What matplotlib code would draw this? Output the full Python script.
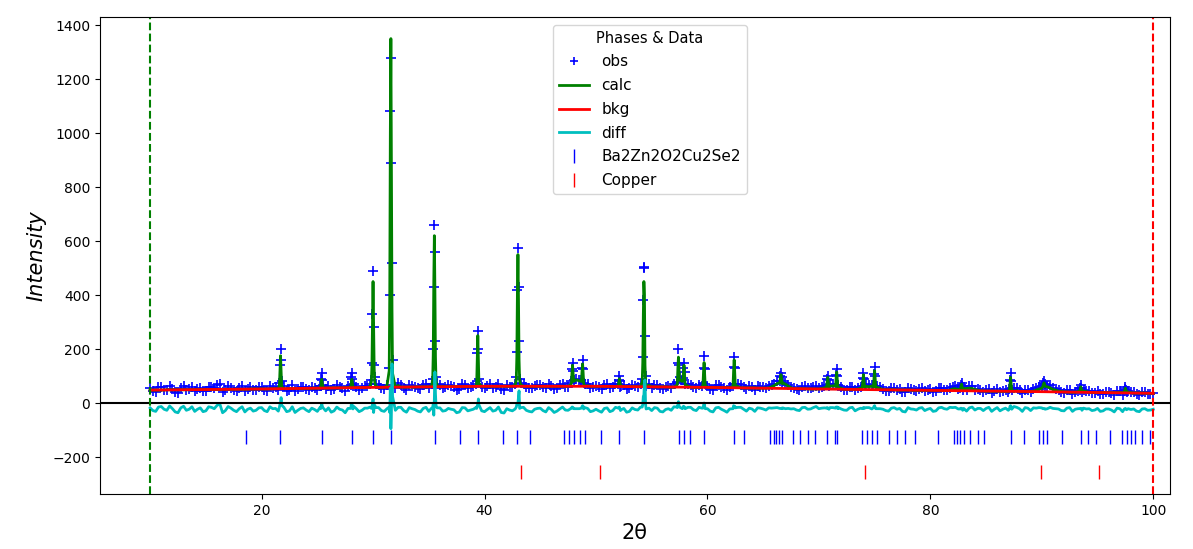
import numpy as np
import matplotlib.pyplot as plt

# background scan points on the half-degree steps (2theta, observed, calculated)
bg_tth = [10.0, 10.5, 11.0, 11.5, 12.0, 12.5, 13.0, 13.5, 14.0, 14.5,
          15.0, 15.5, 16.0, 16.5, 17.0, 17.5, 18.0, 18.5, 19.0, 19.5,
          20.0, 20.5, 21.0, 21.5, 22.0, 22.5, 23.0, 23.5, 24.0, 24.5,
          25.0, 26.0, 26.5, 27.0, 27.5, 28.5, 29.0, 29.5,
          30.5, 31.0, 32.0, 32.5, 33.0, 33.5, 34.0, 34.5,
          35.0, 36.0, 36.5, 37.0, 37.5, 38.0, 38.5, 39.0,
          40.0, 40.5, 41.0, 41.5, 42.0, 42.5, 43.5, 44.0, 44.5,
          45.0, 45.5, 46.0, 46.5, 47.0, 47.5, 48.5, 49.0, 49.5,
          50.0, 50.5, 51.0, 51.5, 52.5, 53.0, 53.5, 54.0, 54.5,
          55.0, 55.5, 56.0, 56.5, 57.0, 58.5, 59.0, 59.5,
          60.0, 60.5, 61.0, 61.5, 62.0, 63.0, 63.5, 64.0, 64.5,
          65.0, 65.5, 66.0, 67.0, 67.5, 68.0, 68.5, 69.0, 69.5,
          70.0, 70.5, 71.0, 72.0, 72.5, 73.0, 73.5, 74.5,
          75.5, 76.0, 76.5, 77.0, 77.5, 78.0, 78.5, 79.0, 79.5,
          80.0, 80.5, 81.0, 81.5, 82.0, 82.5, 83.0, 83.5, 84.0, 84.5,
          85.0, 85.5, 86.0, 86.5, 87.0, 87.5, 88.0, 88.5, 89.0, 89.5,
          90.0, 90.5, 91.0, 91.5, 92.0, 92.5, 93.0, 94.0, 94.5,
          95.0, 95.5, 96.0, 96.5, 97.0, 98.0, 98.5, 99.0, 99.5, 100.0]
bg_obs = [55, 42, 60, 47, 53, 38, 62, 51, 44, 57,
          46, 59, 66, 40, 63, 49, 55, 43, 58, 50,
          60, 45, 57, 48, 62, 50, 44, 59, 53, 61,
          49, 63, 52, 58, 46, 61, 55, 64,
          66, 52, 57, 68, 50, 63, 55, 65,
          54, 67, 58, 63, 50, 69, 57, 64,
          55, 70, 60, 52, 66, 58, 71, 56, 64,
          68, 54, 63, 57, 72, 60, 86, 70, 55,
          64, 53, 69, 58, 66, 55, 62, 70, 63,
          57, 66, 52, 63, 70, 68, 55, 64,
          62, 50, 66, 54, 60, 65, 51, 59, 62,
          58, 63, 72, 74, 60, 52, 61, 54, 60,
          56, 63, 70, 58, 49, 60, 54, 68,
          58, 46, 55, 50, 42, 56, 49, 53, 44,
          52, 43, 55, 48, 60, 53, 58, 62, 49, 50,
          49, 38, 52, 45, 41, 55, 47, 50, 39, 54,
          62, 64, 55, 47, 37, 48, 42, 45, 36,
          44, 35, 41, 30, 43, 39, 32, 40, 34, 38]
bg_calc = [48, 48, 48, 49, 49, 49, 49, 49, 50, 50,
           50, 50, 50, 51, 51, 51, 51, 51, 52, 52,
           52, 52, 53, 53, 53, 54, 54, 54, 54, 55,
           55, 56, 56, 56, 57, 57, 57, 58,
           58, 58, 59, 59, 59, 59, 60, 60,
           60, 60, 61, 61, 61, 61, 61, 62,
           62, 62, 62, 62, 62, 62, 62, 62, 62,
           62, 62, 62, 62, 62, 62, 82, 62, 62,
           62, 62, 62, 61, 61, 61, 61, 60, 60,
           60, 60, 60, 59, 59, 59, 58, 58,
           58, 58, 57, 57, 57, 56, 56, 56, 55,
           55, 56, 65, 70, 57, 53, 53, 52, 52,
           52, 56, 62, 55, 51, 51, 52, 60,
           54, 49, 49, 48, 48, 48, 47, 47, 47,
           47, 47, 46, 46, 52, 50, 53, 55, 50, 45,
           44, 44, 44, 43, 43, 43, 43, 42, 42, 48,
           55, 60, 50, 44, 41, 40, 40, 42, 39,
           39, 39, 38, 38, 39, 38, 37, 37, 36, 36]

# background scan points on the quarter-degree steps
bq_tth = [10.25, 10.75, 11.25, 11.75, 12.25, 12.75, 13.25, 13.75, 14.25, 14.75,
          15.25, 15.75, 16.25, 16.75, 17.25, 17.75, 18.25, 18.75, 19.25, 19.75,
          20.25, 20.75, 21.25, 22.25, 22.75, 23.25, 23.75, 24.25, 24.75,
          25.25, 25.75, 26.25, 26.75, 27.25, 27.75, 28.25, 28.75, 29.25, 29.75,
          30.25, 30.75, 31.25, 32.25, 32.75, 33.25, 33.75, 34.25, 34.75,
          35.25, 35.75, 36.25, 36.75, 37.25, 37.75, 38.25, 38.75, 39.25, 39.75,
          40.25, 40.75, 41.25, 41.75, 42.25, 42.75, 43.25, 43.75, 44.25, 44.75,
          45.25, 45.75, 46.25, 46.75, 47.25, 47.75, 48.25, 49.25, 49.75,
          50.25, 50.75, 51.25, 51.75, 52.25, 52.75, 53.25, 53.75, 54.75,
          55.25, 55.75, 56.25, 56.75, 57.25, 57.75, 58.25, 58.75, 59.25,
          60.25, 60.75, 61.25, 61.75, 62.25, 62.75, 63.25, 63.75, 64.25, 64.75,
          65.25, 65.75, 66.25, 66.75, 67.25, 67.75, 68.25, 68.75, 69.25, 69.75,
          70.25, 71.25, 71.75, 72.25, 72.75, 73.25, 73.75, 74.25, 74.75,
          75.25, 75.75, 76.25, 76.75, 77.25, 77.75, 78.25, 78.75, 79.25, 79.75,
          80.25, 80.75, 81.25, 81.75, 82.25, 83.25, 83.75, 84.25, 84.75,
          85.25, 85.75, 86.25, 86.75, 87.75, 88.25, 88.75, 89.25, 89.75,
          90.75, 91.25, 91.75, 92.25, 92.75, 93.25, 93.75, 94.25, 94.75,
          95.25, 95.75, 96.25, 96.75, 97.25, 97.75, 98.25, 98.75, 99.25, 99.75]
bq_obs = [45, 58, 50, 63, 41, 56, 47, 60, 52, 43,
          61, 54, 72, 48, 57, 44, 62, 53, 47, 59,
          49, 63, 58, 46, 65, 52, 61, 47, 56,
          64, 51, 47, 66, 55, 62, 70, 50, 63, 72,
          70, 55, 68, 74, 56, 67, 60, 52, 69,
          70, 72, 56, 66, 61, 53, 68, 60, 71, 58,
          63, 57, 72, 50, 61, 69, 76, 60, 54, 67,
          59, 70, 52, 65, 61, 73, 90, 69, 58,
          58, 67, 55, 70, 63, 52, 68, 59, 72,
          68, 54, 61, 57, 76, 84, 72, 58, 67,
          53, 65, 59, 48, 64, 70, 58, 62, 50, 61,
          54, 66, 80, 82, 68, 57, 50, 62, 55, 64,
          60, 72, 66, 50, 58, 47, 61, 70, 66,
          62, 52, 44, 57, 53, 40, 51, 46, 55, 49,
          41, 54, 50, 57, 62, 49, 64, 53, 42,
          53, 46, 40, 50, 55, 37, 48, 51, 60,
          65, 52, 40, 47, 34, 46, 50, 44, 38,
          33, 42, 37, 44, 31, 45, 40, 30, 41, 35]
bq_calc = [48, 48, 48, 49, 49, 49, 49, 49, 50, 50,
           50, 50, 50, 51, 51, 51, 51, 51, 52, 52,
           52, 52, 53, 53, 54, 54, 54, 54, 55,
           55, 55, 56, 56, 56, 57, 57, 57, 57, 62,
           62, 58, 64, 65, 59, 59, 59, 60, 60,
           64, 65, 61, 61, 61, 61, 61, 61, 62, 62,
           62, 62, 62, 62, 62, 66, 68, 62, 62, 62,
           62, 62, 62, 62, 62, 68, 86, 64, 62,
           62, 62, 62, 61, 63, 61, 61, 60, 66,
           60, 60, 60, 59, 66, 80, 63, 58, 58,
           58, 58, 57, 57, 60, 61, 56, 56, 56, 55,
           55, 60, 72, 75, 63, 53, 53, 53, 52, 52,
           54, 64, 58, 51, 51, 51, 55, 62, 63,
           58, 50, 49, 49, 48, 48, 48, 47, 47, 47,
           47, 47, 46, 48, 53, 54, 54, 48, 45,
           44, 44, 44, 44, 46, 43, 42, 44, 52,
           56, 48, 43, 41, 40, 42, 44, 40, 39,
           39, 39, 38, 38, 38, 41, 37, 37, 37, 36]

# points across the Bragg peaks
pk_tth = [21.6, 21.65, 21.7, 21.75, 21.8,
          25.3, 25.35, 25.4, 25.45, 25.5,
          28.0, 28.05, 28.1, 28.15, 28.2,
          29.85, 29.9, 29.95, 30.0, 30.05, 30.1, 30.15,
          31.45, 31.5, 31.55, 31.6, 31.65, 31.7, 31.75,
          35.35, 35.4, 35.45, 35.5, 35.55, 35.6, 35.65,
          39.3, 39.35, 39.4, 39.45, 39.5,
          42.85, 42.9, 42.95, 43.0, 43.05, 43.1, 43.15,
          47.8, 47.85, 47.9, 47.95, 48.0,
          48.7, 48.75, 48.8, 48.85, 48.9,
          52.0, 52.05, 52.1, 52.15, 52.2,
          54.15, 54.2, 54.25, 54.3, 54.35, 54.4, 54.45,
          57.3, 57.35, 57.4, 57.45, 57.5,
          57.8, 57.85, 57.9, 57.95, 58.0,
          59.6, 59.65, 59.7, 59.75, 59.8,
          62.3, 62.35, 62.4, 62.45, 62.5,
          66.5, 66.55, 66.6, 66.65, 66.7,
          70.7, 70.75, 70.8, 70.85, 70.9,
          71.5, 71.55, 71.6, 71.65, 71.7,
          73.9, 73.95, 74.0, 74.05, 74.1,
          74.9, 74.95, 75.0, 75.05, 75.1,
          82.7, 82.75, 82.8, 82.85, 82.9,
          87.1, 87.15, 87.2, 87.25, 87.3,
          90.1, 90.15, 90.2, 90.25, 90.3,
          93.4, 93.45, 93.5, 93.55, 93.6,
          97.4, 97.45, 97.5, 97.55, 97.6]
pk_obs = [75, 140, 200, 160, 80,
          62, 90, 110, 85, 66,
          65, 95, 110, 88, 63,
          85, 150, 330, 490, 280, 140, 95,
          130, 400, 1080, 1280, 890, 520, 160,
          90, 200, 430, 660, 560, 230, 95,
          80, 185, 265, 200, 90,
          95, 190, 420, 575, 430, 230, 90,
          80, 125, 150, 118, 84,
          86, 130, 160, 125, 75,
          70, 85, 100, 80, 60,
          90, 170, 380, 505, 500, 250, 100,
          78, 150, 200, 140, 95,
          92, 128, 150, 115, 72,
          74, 130, 175, 125, 70,
          70, 135, 170, 128, 72,
          80, 100, 110, 98, 76,
          66, 88, 100, 84, 62,
          68, 105, 125, 100, 64,
          62, 92, 110, 90, 66,
          68, 108, 135, 100, 62,
          55, 68, 75, 64, 50,
          52, 85, 110, 80, 50,
          66, 74, 80, 72, 64,
          48, 57, 65, 55, 42,
          44, 52, 60, 50, 40]
pk_calc = [65, 120, 175, 115, 63,
           58, 75, 88, 72, 58,
           60, 75, 88, 74, 60,
           80, 140, 310, 450, 290, 130, 78,
           120, 410, 1000, 1350, 890, 350, 110,
           85, 180, 450, 620, 420, 170, 80,
           75, 170, 250, 160, 72,
           85, 170, 400, 550, 380, 160, 85,
           75, 115, 140, 110, 80,
           80, 118, 145, 112, 72,
           64, 78, 90, 76, 63,
           80, 150, 330, 450, 400, 140, 80,
           70, 130, 170, 125, 85,
           85, 115, 140, 105, 68,
           68, 115, 150, 110, 66,
           66, 120, 160, 115, 65,
           75, 95, 105, 92, 72,
           60, 80, 95, 78, 60,
           62, 95, 115, 90, 60,
           58, 85, 105, 82, 60,
           60, 95, 120, 92, 58,
           52, 62, 70, 60, 52,
           48, 72, 95, 70, 48,
           62, 70, 75, 68, 62,
           44, 52, 60, 50, 44,
           41, 48, 55, 47, 40]

# refined background
bkg_tth = [10, 20, 30, 40, 50, 60, 70, 80, 90, 100]
bkg_int = [48, 52, 58, 62, 62, 58, 52, 47, 42, 36]

# reflection positions
ba_refl = [18.57, 21.63, 25.44, 28.13, 30.01, 31.57, 35.52, 37.78,
           39.40, 41.64, 42.93, 44.04, 47.17, 47.60, 48.07, 48.55, 48.99,
           50.49, 52.11, 54.29, 57.43, 57.87, 58.41, 59.73, 62.36, 63.26,
           65.65, 65.95, 66.19, 66.43, 66.70, 67.69, 68.34, 69.00, 69.69,
           70.73, 71.48, 71.63, 73.87, 74.32, 74.77, 75.22, 76.32, 77.01,
           77.76, 78.65, 80.65, 82.09, 82.39, 82.69, 82.98, 83.58, 84.24,
           84.78, 87.24, 88.43, 89.78, 90.11, 90.47, 91.81, 93.52, 94.12,
           94.89, 96.09, 97.20, 97.64, 98.00, 98.39, 98.98, 99.73]
cu_refl = [43.3, 50.4, 74.1, 89.9, 95.1]

diff_offset = -25
ba_level = -126
cu_level = -255

tth = np.array(bg_tth + bq_tth + pk_tth)
obs = np.array(bg_obs + bq_obs + pk_obs, dtype=float)
calc = np.array(bg_calc + bq_calc + pk_calc, dtype=float)
order = np.argsort(tth)
tth, obs, calc = tth[order], obs[order], calc[order]
diff = obs - calc + diff_offset

fig = plt.figure(figsize=(11.93, 5.49), dpi=100)
ax = fig.add_axes([0.0838, 0.1002, 0.8969, 0.8688])

ax.plot(tth, obs, '+', color='b', ms=7, mew=1.2, label='obs')
ax.plot(tth, calc, color='g', lw=2, label='calc')
ax.plot(bkg_tth, bkg_int, color='r', lw=2, label='bkg')
ax.plot(tth, diff, color='c', lw=2, label='diff')
ax.plot(ba_refl, [ba_level] * len(ba_refl), '|', color='b', ms=10, mew=1,
        label='Ba2Zn2O2Cu2Se2')
ax.plot(cu_refl, [cu_level] * len(cu_refl), '|', color='r', ms=10, mew=1,
        label='Copper')

ax.axhline(0, color='k', lw=1.5)
ax.axvline(10, color='g', ls='--', lw=1.5)
ax.axvline(100, color='r', ls='--', lw=1.5)

ax.set_xlim(5.5, 101.5)
ax.set_ylim(-337, 1430)
ax.set_xticks([20, 40, 60, 80, 100])
ax.set_yticks([-200, 0, 200, 400, 600, 800, 1000, 1200, 1400])
ax.set_xlabel('2θ', fontsize=15)
ax.set_ylabel('Intensity', fontsize=15, style='italic')

leg = ax.legend(title='Phases & Data', loc='upper center',
                bbox_to_anchor=(0.514, 1.0), fontsize=11, title_fontsize=10.5,
                labelspacing=0.57)
leg.legend_handles[0].set_markersize(6)

fig.savefig('out.png', dpi=100)
